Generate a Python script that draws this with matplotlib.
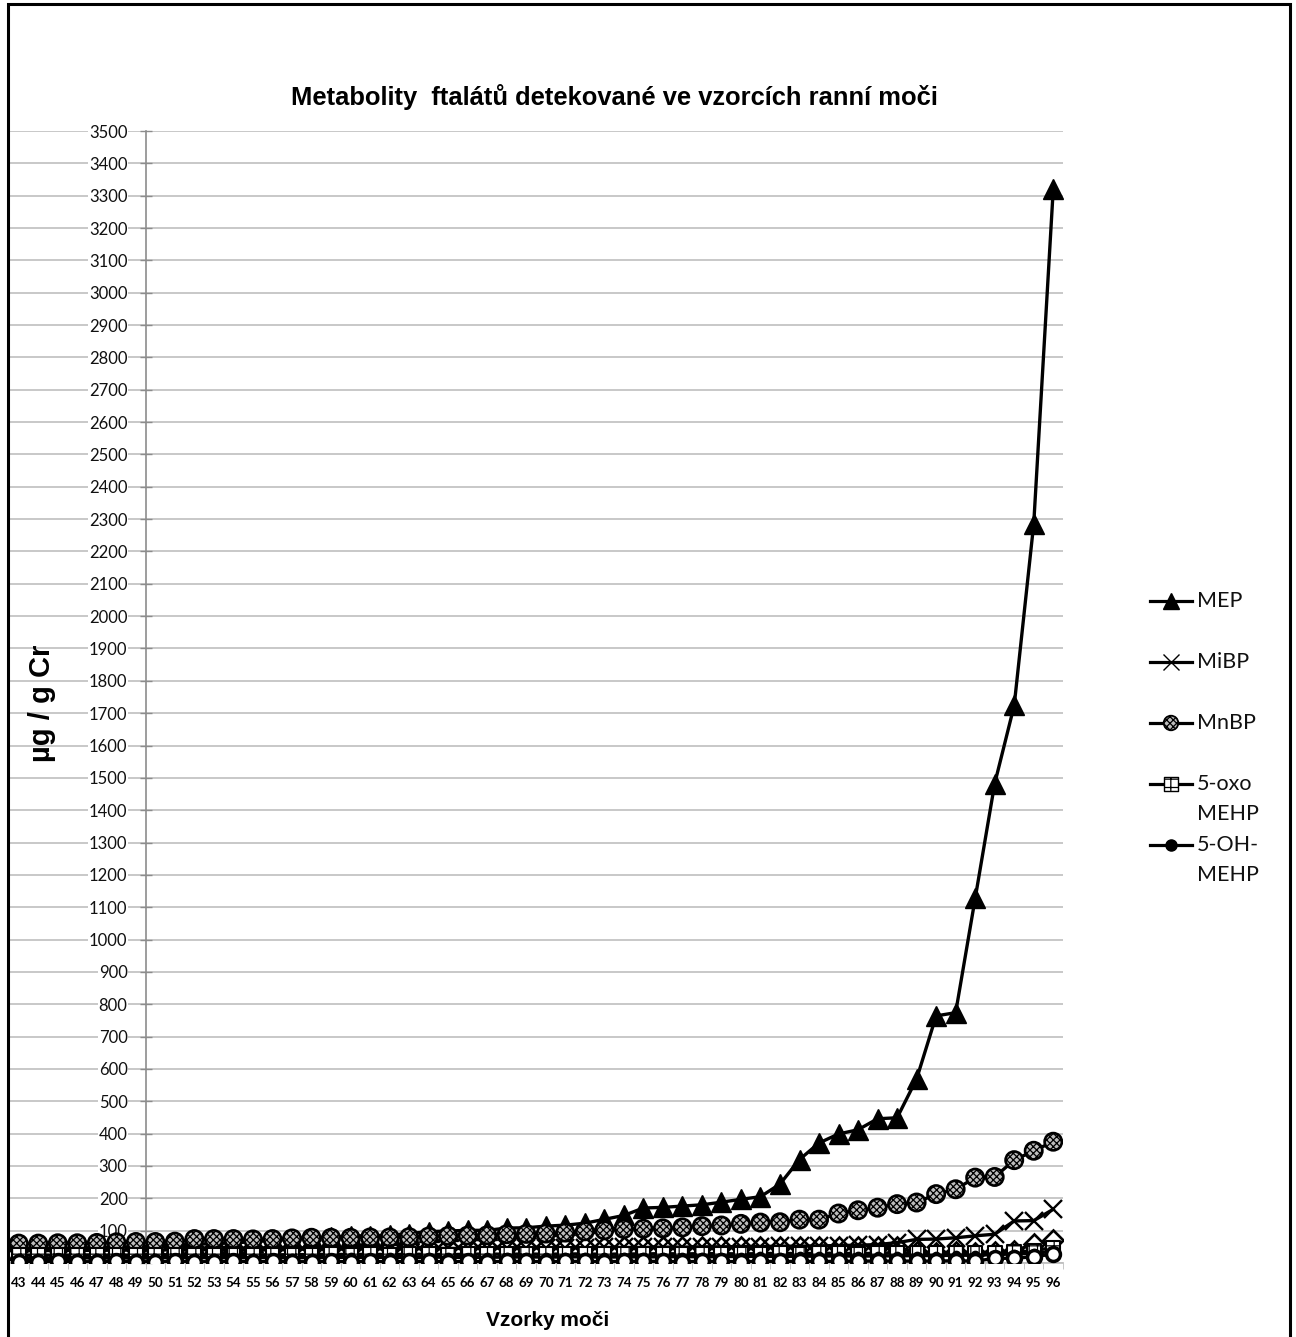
import matplotlib
matplotlib.use("Agg")
import matplotlib.pyplot as plt
import numpy as np
from matplotlib.patches import Rectangle
from matplotlib.lines import Line2D

plt.rcParams["font.family"] = ["Lato", "DejaVu Sans"]
plt.rcParams["hatch.linewidth"] = 0.9

# Sample numbers (urine samples)
categories = list(range(43, 97))

# Metabolite concentrations, µg / g creatinine
mep = [40, 42, 43, 45, 47, 49, 51, 53, 55, 58, 60, 62, 66, 70, 75,
       78, 80, 84, 84, 86, 91, 97, 99, 101, 101, 108, 109, 114, 117, 123, 135, 147,
       170, 172, 176, 180, 188, 197, 205, 244, 320, 371, 399, 412, 446, 449,
       569, 764, 774, 1127, 1482, 1724, 2285, 3320]
mibp = [38, 38, 39, 39, 39, 40, 40, 40, 41, 41, 41, 42, 42, 42, 43,
        43, 43, 44, 44, 44, 44, 45, 45, 45, 46, 46, 46, 47, 47, 47, 48, 48,
        48, 49, 49, 50, 50, 51, 51, 52, 52, 53, 54, 55, 57, 63,
        73, 74, 78, 84, 89, 130, 131, 166]
mnbp = [60, 60, 61, 61, 62, 64, 65, 65, 66, 74, 74, 74, 73, 74, 76,
        78, 78, 78, 79, 79, 80, 82, 84, 85, 86, 89, 90, 91, 94, 98, 101, 105,
        106, 107, 110, 114, 116, 121, 125, 126, 134, 134, 153, 163, 171, 182,
        187, 213, 228, 264, 266, 318, 347, 375]
oxo_mehp = [24, 25, 24, 25, 25, 24, 25, 26, 25, 26, 25, 26, 26, 25, 26,
            26, 27, 26, 27, 26, 27, 27, 26, 27, 28, 27, 28, 27, 28, 28, 27, 28,
            28, 29, 28, 29, 29, 28, 29, 30, 29, 30, 30, 29, 30, 31,
            30, 31, 31, 30, 32, 33, 38, 48]
oh_mehp = [15, 16, 15, 16, 16, 15, 16, 16, 17, 16, 17, 16, 17, 17, 16,
           17, 17, 18, 17, 18, 17, 18, 18, 17, 18, 18, 19, 18, 19, 19, 18, 19,
           19, 19, 20, 19, 20, 20, 21, 20, 21, 21, 22, 21, 22, 22,
           23, 23, 24, 24, 26, 28, 30, 36]
mbzp = [44, 45, 44, 45, 46, 45, 44, 45, 46, 45, 46, 45, 46, 47, 46,
        47, 46, 47, 48, 47, 48, 47, 48, 49, 48, 49, 48, 49, 48, 49, 50, 49,
        49, 50, 49, 50, 49, 50, 50, 49, 50, 50, 50, 49, 50, 49,
        33, 32, 33, 32, 34, 38, 58, 72]
mehp = [4, 4, 5, 4, 4, 5, 4, 4, 5, 4, 4, 5, 4, 5, 4,
        4, 5, 4, 5, 4, 5, 5, 4, 5, 4, 5, 5, 4, 5, 5, 4, 5,
        5, 5, 4, 5, 5, 4, 5, 5, 5, 5, 5, 6, 6, 6,
        6, 6, 7, 6, 14, 15, 19, 28]

y_ticks = list(range(0, 3600, 100))
legend_rows = [["MEP"], ["MiBP"], ["MnBP"], ["5-oxo", "MEHP"], ["5-OH-", "MEHP"]]

W, H = 1296, 1337
fig = plt.figure(figsize=(W / 100, H / 100), dpi=100)
ax = fig.add_axes([9 / W, 74 / H, (1063 - 9) / W, (1263 - 131) / H])

x = np.arange(len(categories))
LW = 2.4

# diamonds
ax.plot(x, mbzp, color="black", lw=LW, marker="D", ms=10, mfc="white",
        mec="black", mew=1.9, zorder=3.0)
# MEP
ax.plot(x, mep, color="black", lw=LW, marker="^", ms=14.5, mfc="black",
        mec="black", zorder=3.1)
# MiBP
ax.plot(x, mibp, color="black", lw=LW, marker="x", ms=13, mew=1.7, zorder=3.2)
# MnBP – patterned grey circles
ax.plot(x, mnbp, color="black", lw=LW, zorder=3.3)
ax.scatter(x, mnbp, s=155, marker="o", facecolor="#bdbdbd", edgecolor="black",
           linewidths=1.9, hatch="xxxxx", zorder=3.31)
# 5-oxo MEHP – squares with grid pattern
ax.plot(x, oxo_mehp, color="black", lw=LW, zorder=3.4)
ax.scatter(x, oxo_mehp, s=100, marker="s", facecolor="white", edgecolor="black",
           linewidths=1.5, hatch="++", zorder=3.41)
# 5-OH-MEHP
ax.plot(x, oh_mehp, color="black", lw=LW, marker="o", ms=6, mfc="black",
        mec="black", zorder=3.5)
# open circles
ax.plot(x, mehp, color="black", lw=LW, marker="o", ms=10, mfc="white",
        mec="black", mew=2.5, zorder=3.6)

ax.set_xlim(-0.5, len(categories) - 0.5)
ax.set_ylim(0, 3500)

# value axis crosses the category axis in front of sample 50
cross = categories.index(50) - 0.5
for s in ("top", "right"):
    ax.spines[s].set_visible(False)
ax.spines["left"].set_position(("data", cross))
ax.spines["left"].set_color("#8c8c8c")
ax.spines["left"].set_linewidth(1.2)
ax.spines["left"].set_zorder(2.5)
ax.spines["bottom"].set_color("#bfbfbf")
ax.spines["bottom"].set_linewidth(1.3)

ax.set_yticks(y_ticks)
ax.set_yticklabels(["" if v == 0 else str(v) for v in y_ticks])
ax.tick_params(axis="y", direction="inout", length=8, width=1, color="#8c8c8c",
               pad=9, labelsize=12, labelcolor="#111111")
for lab in ax.get_yticklabels():
    lab.set_bbox(dict(facecolor="white", edgecolor="none", pad=0.5))
ax.yaxis.grid(True, color="#c4c4c4", lw=1.3)
ax.set_axisbelow(True)

ax.set_xticks(x)
ax.set_xticklabels([str(c) for c in categories], fontweight="bold")
ax.tick_params(axis="x", length=0, pad=10, labelsize=9.6)
ax.set_xticks(np.arange(len(categories) + 1) - 0.5, minor=True)
ax.tick_params(axis="x", which="minor", length=4, color="#bfbfbf", direction="out")

# titles
fig.text(614 / W, 1 - 97 / H, "Metabolity  ftalátů detekované ve vzorcích ranní moči",
         family="Liberation Sans", fontweight="bold", fontsize=18.4, ha="center", va="center")
fig.text(548 / W, 1 - 1320 / H, "Vzorky moči", family="Liberation Sans",
         fontweight="bold", fontsize=15, ha="center", va="center")
fig.text(42 / W, 1 - 703 / H, "µg / g Cr", family="Liberation Sans",
         fontweight="bold", fontsize=21, rotation=90, ha="center", va="center")

# legend
lax = fig.add_axes([0, 0, 1, 1], facecolor="none")
lax.set_xlim(0, W)
lax.set_ylim(H, 0)
lax.axis("off")
row_y = [601, 662, 723, 784, 845]
x0, x1, xm, xt = 1150, 1192, 1171, 1197
for yy in row_y:
    lax.add_line(Line2D([x0, x1], [yy, yy], color="black", lw=2.3))
lax.plot([xm], [row_y[0]], marker="^", ms=12, color="black", lw=0)
lax.plot([xm], [row_y[1]], marker="x", ms=11, mew=1.0, color="black", lw=0)
lax.scatter([xm], [row_y[2]], s=110, marker="o", facecolor="#bdbdbd", edgecolor="black",
            linewidths=1.3, hatch="xxxxx", zorder=3)
lax.scatter([xm], [row_y[3]], s=110, marker="s", facecolor="white", edgecolor="black",
            linewidths=1.0, hatch="++", zorder=3)
lax.plot([xm], [row_y[4]], marker="o", ms=8, color="black", lw=0)
for yy, lines in zip(row_y, legend_rows):
    for k, t in enumerate(lines):
        lax.text(xt, yy + 30 * k, t, fontsize=15.5, ha="left", va="center", color="#111111")

# outer frame
fig.add_artist(Rectangle((7.5 / W, -0.01), (1290 - 7.5) / W, 1.01 - 4 / H,
                         transform=fig.transFigure, fill=False, lw=2.2, ec="black"))

fig.savefig("out.png", dpi=100)
